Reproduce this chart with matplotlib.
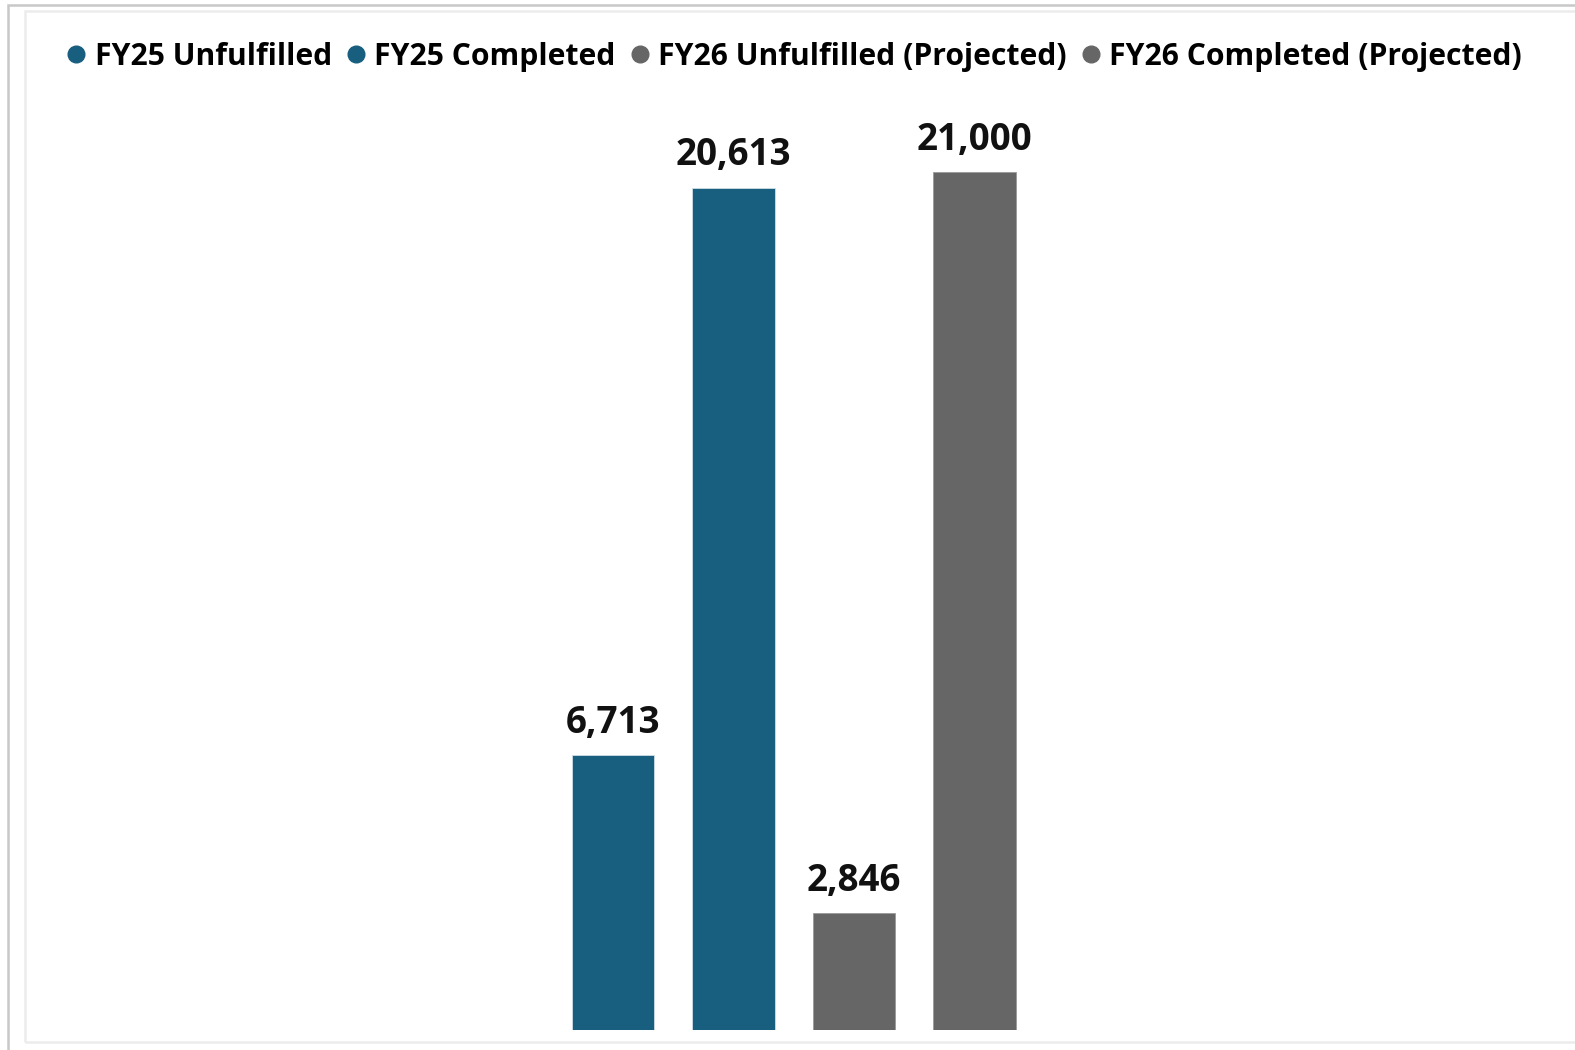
import matplotlib.pyplot as plt
from matplotlib.lines import Line2D
from matplotlib.patches import Rectangle

series = ["FY25 Unfulfilled", "FY25 Completed",
          "FY26 Unfulfilled (Projected)", "FY26 Completed (Projected)"]
values = [6713, 20613, 2846, 21000]
colors = ["#175E7F", "#175E7F", "#666666", "#666666"]

plt.rcParams['font.family'] = ['Open Sans', 'DejaVu Sans']

fig = plt.figure(figsize=(15.75, 10.5), dpi=100)
ax = fig.add_axes([0, 20.4 / 1050, 1, 1029.6 / 1050])

x = list(range(len(values)))
bars = ax.bar(x, values, width=0.684, color=colors, edgecolor="#cfdde6", linewidth=0.6)
for b, c in zip(bars, colors):
    if c == "#666666":
        b.set_edgecolor("#9a9a9a")

for xi, v in zip(x, values):
    ax.annotate(f"{v:,}", (xi, v), xytext=(0, 9.5), textcoords="offset points",
                ha="center", va="bottom", fontsize=26.5, fontweight="bold", color="#111111")

ax.set_xlim(-5.093, 7.988)
ax.set_ylim(0, 25206)
ax.axis("off")

# frame lines
fig.patches.append(Rectangle((8 / 1575, -0.1), 1.2, 1 - 5 / 1050 + 0.1, transform=fig.transFigure,
                             fill=False, edgecolor="#c8c8c8", linewidth=1.8))
fig.patches.append(Rectangle((25 / 1575, 8.5 / 1050), 1.2, 1 - 19.5 / 1050, transform=fig.transFigure,
                             fill=False, edgecolor="#ececec", linewidth=1.8))

handles = [Line2D([], [], marker="o", linestyle="none", markersize=12,
                  markerfacecolor=c, markeredgecolor=c) for c in colors]
fig.legend(handles, series, loc="center left", bbox_to_anchor=(68.8 / 1575, 1 - 57 / 1050),
           ncol=4, frameon=False, handlelength=0.5, handletextpad=0.36, columnspacing=0.55,
           borderaxespad=0, borderpad=0,
           prop={"family": "Open Sans", "weight": "bold", "size": 21.7})

fig.savefig("out.png", dpi=100)
